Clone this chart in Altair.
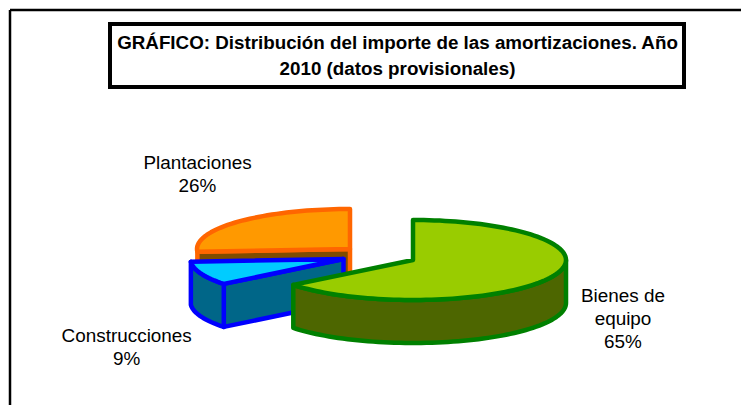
import math
import altair as alt

labels = [["Bienes de", "equipo", "65%"], ["Plantaciones", "26%"], ["Construcciones", "9%"]]
shares = [64.3, 26.1, 9.6]
title_lines = ["GRÁFICO: Distribución del importe de las amortizaciones. Año", "2010 (datos provisionales)"]

OX, OY = 8, 8  # page margin
RX, RY, DEPTH = 153, 40, 43


def pt(c, deg, dy=0):
    a = math.radians(deg)
    return [c[0] + RX * math.sin(a) - OX, c[1] - RY * math.cos(a) + dy - OY]


def arc(c, a0, a1, dy=0):
    n = max(2, int(abs(a1 - a0) / 2))
    return [pt(c, a0 + (a1 - a0) * i / n, dy) for i in range(n + 1)]


def poly(points, face):
    ring = points + [points[0]]
    return {"type": "Feature", "properties": {"face": face},
            "geometry": {"type": "Polygon", "coordinates": [ring]}}


def apex(c, dy=0):
    return [c[0] - OX, c[1] + dy - OY]


# angles come from the shares, clockwise from 12 o'clock
green_end = shares[0] * 3.6
blue_end = green_end + shares[2] * 3.6
orange_end = 360.0

c_green, c_orange, c_blue = (413, 260), (350, 249), (343.5, 259)

features = [
    poly([apex(c_orange), pt(c_orange, blue_end), pt(c_orange, blue_end, DEPTH), apex(c_orange, DEPTH)], "orange_side"),
    poly([apex(c_orange)] + arc(c_orange, blue_end, orange_end), "orange_top"),
    poly([apex(c_blue), pt(c_blue, green_end), pt(c_blue, green_end, DEPTH), apex(c_blue, DEPTH)], "blue_side"),
    poly(arc(c_blue, green_end, blue_end) + arc(c_blue, blue_end, green_end, DEPTH), "blue_side"),
    poly([apex(c_blue)] + arc(c_blue, green_end, blue_end), "blue_top"),
    poly(arc(c_green, 90, green_end) + arc(c_green, green_end, 90, DEPTH), "green_side"),
    poly([apex(c_green)] + arc(c_green, 0, green_end), "green_top"),
]

faces = ["orange_side", "orange_top", "blue_side", "blue_top", "green_side", "green_top"]
fills = ["#7F4C00", "#FF9900", "#006688", "#00CCFF", "#4D6600", "#99CC00"]
strokes = ["#FF6600", "#FF6600", "#0000FF", "#0000FF", "#008000", "#008000"]

W, H = 733, 397

pie = alt.Chart(alt.Data(values=features)).mark_geoshape(
    strokeWidth=4.5, strokeJoin="round"
).encode(
    fill=alt.Fill("properties.face:N", scale=alt.Scale(domain=faces, range=fills), legend=None),
    stroke=alt.Stroke("properties.face:N", scale=alt.Scale(domain=faces, range=strokes), legend=None),
).project(type="identity", scale=1, translate=[0, 0])

one = alt.Data(values=[{"a": 0}])
frame_v = alt.Chart(one).mark_rule(color="black", strokeWidth=2.5).encode(
    x=alt.value(2), y=alt.value(2), y2=alt.value(H))
frame_h = alt.Chart(one).mark_rule(color="black", strokeWidth=2.5).encode(
    y=alt.value(2), x=alt.value(2), x2=alt.value(W))

box = alt.Chart(one).mark_rect(
    fill="white", stroke="black", strokeWidth=4
).encode(x=alt.value(102), x2=alt.value(676), y=alt.value(16), y2=alt.value(79))

title = alt.Chart(alt.Data(values=[
    {"t": title_lines[0], "py": 40.5},
    {"t": title_lines[1], "py": 66.5},
])).mark_text(font="Liberation Sans", fontSize=18.8, fontWeight="bold", color="black", baseline="alphabetic").encode(
    x=alt.value(389.5), y=alt.Y("py:Q", scale=None), text="t:N")

label_rows = [
    {"t": labels[0], "px": 615, "py": 293.7},
    {"t": labels[1], "px": 189.5, "py": 161},
    {"t": labels[2], "px": 118.7, "py": 333.7},
]
text = alt.Chart(alt.Data(values=label_rows)).mark_text(
    font="Liberation Sans", fontSize=18.9, color="black", lineHeight=23, baseline="alphabetic", align="center"
).encode(x=alt.X("px:Q", scale=None), y=alt.Y("py:Q", scale=None), text="t:N")

chart = alt.layer(frame_v, frame_h, box, title, pie, text).properties(
    width=W, height=H, padding=0, autosize=alt.AutoSizeParams(type="none"), background="white"
).configure_view(stroke=None)

chart.save("out.html", embed_options={"renderer": "svg", "actions": False})
